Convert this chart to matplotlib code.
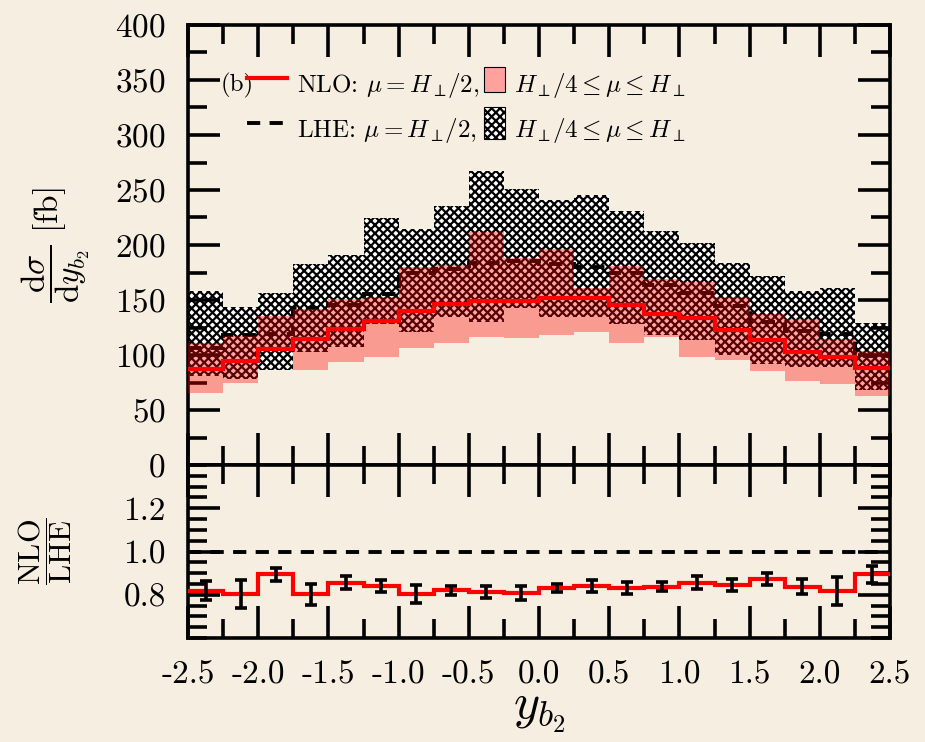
import numpy as np
import matplotlib.pyplot as plt
from matplotlib.ticker import MultipleLocator
from matplotlib.patches import Rectangle
from matplotlib.lines import Line2D

plt.rcParams['font.family'] = 'serif'
plt.rcParams['font.serif'] = ['cmr10']
plt.rcParams['mathtext.fontset'] = 'cm'
plt.rcParams['axes.unicode_minus'] = False
plt.rcParams['axes.formatter.use_mathtext'] = True
plt.rcParams['hatch.linewidth'] = 1.6

# rapidity bins of the second b-jet
bin_edges = [-2.5, -2.25, -2.0, -1.75, -1.5, -1.25, -1.0, -0.75, -0.5, -0.25, 0.0,
             0.25, 0.5, 0.75, 1.0, 1.25, 1.5, 1.75, 2.0, 2.25, 2.5]

# NLO, mu = H/2 and scale band H/4 .. H  [fb]
nlo_c = [87.3, 95.0, 105.5, 114.5, 123.6, 131.0, 139.7, 146.4, 149.4, 149.4,
         151.8, 151.8, 145.5, 137.0, 134.0, 123.0, 113.3, 102.7, 97.9, 88.5]
nlo_hi = [110.6, 117.6, 135.5, 141.5, 150.6, 152.4, 180.3, 182.0, 212.0, 188.0,
          196.0, 161.2, 180.9, 168.8, 166.7, 152.4, 137.3, 132.4, 114.5, 103.9]
nlo_lo = [65.8, 74.2, 103.6, 86.4, 94.0, 98.5, 106.0, 110.6, 116.7, 115.8,
          118.0, 120.5, 111.0, 116.0, 98.5, 95.8, 85.7, 76.7, 73.6, 63.0]

# LHE level, same scale choices
lhe_c = [106.7, 118.2, 118.8, 143.0, 145.5, 155.2, 174.2, 177.9, 183.9, 185.5,
         182.4, 180.3, 174.8, 163.6, 156.0, 144.8, 130.3, 122.1, 119.1, 99.0]
lhe_hi = [158.5, 143.3, 156.0, 182.4, 190.9, 224.2, 214.2, 235.5, 267.3, 250.8,
          241.0, 245.5, 230.9, 212.3, 201.5, 183.3, 172.2, 158.5, 161.3, 129.4]
lhe_lo = [80.9, 77.9, 86.4, 103.0, 107.0, 128.0, 121.0, 135.0, 130.0, 143.0,
          135.0, 135.0, 128.5, 118.0, 114.0, 100.0, 92.0, 89.0, 89.0, 68.5]

# NLO / LHE with statistical errors
ratio = [0.818, 0.803, 0.894, 0.803, 0.856, 0.841, 0.803, 0.820, 0.814, 0.808,
         0.830, 0.841, 0.830, 0.838, 0.856, 0.845, 0.873, 0.838, 0.818, 0.894]
ratio_err = [0.044, 0.064, 0.032, 0.049, 0.029, 0.029, 0.043, 0.020, 0.028, 0.032,
             0.018, 0.029, 0.027, 0.020, 0.030, 0.027, 0.028, 0.035, 0.064, 0.039]

xtick_vals = [-2.5, -2.0, -1.5, -1.0, -0.5, 0.0, 0.5, 1.0, 1.5, 2.0, 2.5]
xtick_labels = ['-2.5', '-2.0', '-1.5', '-1.0', '-0.5', '0.0', '0.5', '1.0', '1.5', '2.0', '2.5']

bg = '#f6eee0'
dash = (0, (3.4, 2.4))

fig = plt.figure(figsize=(9.25, 7.42), dpi=100, facecolor=bg)
W, H = 925.0, 742.0
ax = fig.add_axes([188 / W, 1 - 465 / H, 702 / W, 440 / H])
rax = fig.add_axes([188 / W, 1 - 638 / H, 702 / W, 173 / H])

edges = np.array(bin_edges)
centers = 0.5 * (edges[1:] + edges[:-1])

# main panel
ax.stairs(lhe_hi, edges, baseline=lhe_lo, fill=True, facecolor='white',
          edgecolor='black', hatch='xxxx', linewidth=0, zorder=1)
ax.stairs(lhe_c, edges, baseline=None, color='black', lw=2.8, ls=dash, zorder=2)
ax.stairs(nlo_hi, edges, baseline=nlo_lo, fill=True, facecolor='red',
          alpha=0.35, linewidth=0, zorder=3)
ax.stairs(nlo_c, edges, baseline=None, color='red', lw=3, zorder=4)

ax.set_xlim(-2.5, 2.5)
ax.set_ylim(0, 400)
ax.yaxis.set_major_locator(MultipleLocator(50))
ax.yaxis.set_minor_locator(MultipleLocator(25))
ax.set_xticks(xtick_vals)
ax.xaxis.set_minor_locator(MultipleLocator(0.25))
ax.tick_params(axis='x', labelbottom=False)
ax.set_ylabel(r'$\dfrac{\mathrm{d}\sigma}{\mathrm{d}y_{b_2}}\ [\mathrm{fb}]$', fontsize=24, va='center')
ax.yaxis.set_label_coords(-0.188, 0.5)

# ratio panel
rax.axhline(1.0, color='black', lw=2.8, ls=dash, zorder=2)
rax.stairs(ratio, edges, baseline=None, color='red', lw=3, zorder=3)
rax.errorbar(centers, ratio, yerr=ratio_err, fmt='none', ecolor='black',
             elinewidth=2.6, capsize=4, capthick=2.6, zorder=4)
rax.set_xlim(-2.5, 2.5)
rax.set_ylim(0.6, 1.4)
rax.set_yticks([0.8, 1.0, 1.2], ['0.8', '1.0', '1.2'])
rax.yaxis.set_minor_locator(MultipleLocator(0.05))
rax.set_xticks(xtick_vals, xtick_labels)
rax.xaxis.set_minor_locator(MultipleLocator(0.25))
rax.set_ylabel(r'$\dfrac{\mathrm{NLO}}{\mathrm{LHE}}$', fontsize=22, va='center')
rax.yaxis.set_label_coords(-0.204, 0.5)
rax.set_xlabel(r'$y_{b_2}$', fontsize=36, labelpad=0)

for a in (ax, rax):
    a.set_facecolor(bg)
    a.set_axisbelow(False)
    for s in a.spines.values():
        s.set_linewidth(2.6)
    a.tick_params(which='both', direction='in', top=True, right=True, width=2.6,
                  labelsize=24, pad=16)
    a.tick_params(which='major', length=23)
    a.tick_params(which='minor', length=14)

# legend
fs = 18
ax.text(0.046, 0.848, '(b)', transform=ax.transAxes, fontsize=fs, zorder=6)
ax.add_line(Line2D([0.084, 0.141], [0.880, 0.880], transform=ax.transAxes,
                   color='red', lw=3, zorder=6))
ax.add_line(Line2D([0.084, 0.141], [0.777, 0.777], transform=ax.transAxes,
                   color='black', lw=2.8, ls=dash, zorder=6))
ax.text(0.155, 0.848, r'NLO: $\mu = H_{\perp\!}/2$,', transform=ax.transAxes, fontsize=fs, zorder=6)
ax.text(0.155, 0.745, r'LHE: $\mu = H_{\perp\!}/2$,', transform=ax.transAxes, fontsize=fs, zorder=6)
ax.add_patch(Rectangle((0.422, 0.848), 0.029, 0.057, transform=ax.transAxes,
                       facecolor=(1.0, 0.63, 0.61), edgecolor='black', lw=0.8, zorder=6))
ax.add_patch(Rectangle((0.422, 0.742), 0.029, 0.072, transform=ax.transAxes,
                       facecolor='white', edgecolor='black', hatch='xxxx', lw=0.8, zorder=6))
ax.text(0.465, 0.848, r'$H_{\perp\!}/4 \leq \mu \leq H_\perp$', transform=ax.transAxes, fontsize=fs, zorder=6)
ax.text(0.465, 0.745, r'$H_{\perp\!}/4 \leq \mu \leq H_\perp$', transform=ax.transAxes, fontsize=fs, zorder=6)

fig.savefig('out.png', dpi=100, facecolor=bg)
